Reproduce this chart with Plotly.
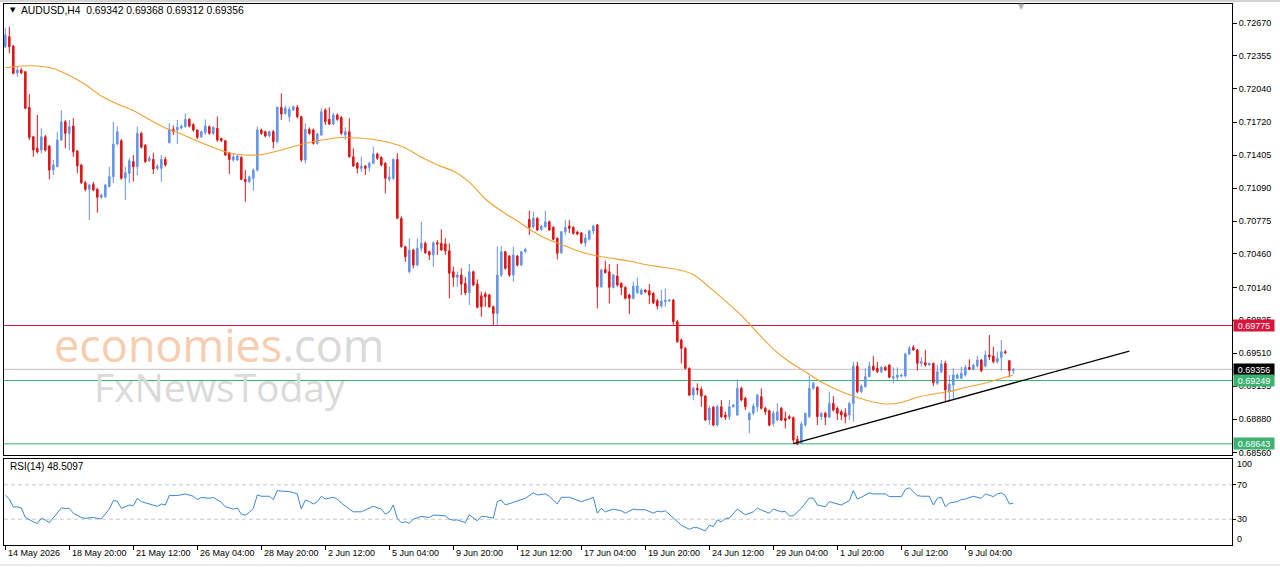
import plotly.graph_objects as go

# ---------------- data ----------------
opens = [
0.72443,0.72539,0.72450,0.72194,0.72220,0.72204,0.71863,0.71582,0.71471,0.71455,
0.71582,0.71493,0.71263,0.71295,0.71550,0.71725,0.71614,0.71684,0.71445,0.71311,
0.71142,0.71078,0.71127,0.71078,0.71002,0.71008,0.71104,0.71199,0.71512,0.71544,
0.71184,0.71231,0.71343,0.71295,0.71614,0.71502,0.71352,0.71365,0.71279,0.71279,
0.71365,0.71524,0.71653,0.71646,0.71665,0.71678,0.71748,0.71700,0.71646,0.71582,
0.71620,0.71678,0.71614,0.71662,0.71566,0.71544,0.71429,0.71359,0.71359,0.71385,
0.71174,0.71152,0.71184,0.71263,0.71646,0.71630,0.71589,0.71630,0.71534,0.71863,
0.71805,0.71774,0.71837,0.71863,0.71774,0.71359,0.71652,0.71646,0.71518,0.71598,
0.71837,0.71748,0.71703,0.71790,0.71767,0.71598,0.71630,0.71390,0.71327,0.71279,
0.71301,0.71289,0.71327,0.71417,0.71385,0.71327,0.71174,0.71184,0.71365,0.70801,
0.70529,0.70290,0.70498,0.70354,0.70514,0.70562,0.70482,0.70450,0.70567,0.70562,
0.70555,0.70490,0.70290,0.70236,0.70258,0.70178,0.70089,0.70290,0.70172,0.70060,
0.70076,0.70067,0.69955,0.69891,0.70258,0.70482,0.70440,0.70258,0.70440,0.70354,
0.70482,0.70791,0.70721,0.70801,0.70696,0.70721,0.70768,0.70715,0.70610,0.70472,
0.70673,0.70727,0.70715,0.70670,0.70660,0.70565,0.70600,0.70680,0.70737,0.70146,
0.70312,0.70290,0.70140,0.70249,0.70178,0.70140,0.70067,0.70035,0.70089,0.70076,
0.70115,0.70108,0.70083,0.70012,0.69961,0.70003,0.70010,0.70019,0.69812,0.69636,
0.69557,0.69365,0.69110,0.69174,0.69164,0.69100,0.68871,0.68993,0.68823,0.68998,
0.68919,0.68902,0.68998,0.68919,0.69174,0.69078,0.68871,0.68935,0.68998,0.69094,
0.68983,0.68960,0.68839,0.68871,0.68983,0.68887,0.68903,0.68893,0.68686,0.68648,
0.68823,0.68903,0.69174,0.69184,0.68903,0.68935,0.68897,0.69030,0.68983,0.68950,
0.68935,0.68919,0.69030,0.69387,0.69142,0.69190,0.69286,0.69387,0.69365,0.69333,
0.69375,0.69397,0.69270,0.69280,0.69290,0.69292,0.69502,0.69566,0.69541,0.69413,
0.69420,0.69397,0.69413,0.69222,0.69333,0.69413,0.69142,0.69206,0.69270,0.69270,
0.69302,0.69375,0.69356,0.69387,0.69445,0.69387,0.69493,0.69483,0.69429,0.69470,
0.69524,0.69438,0.69342]
highs = [
0.72622,0.72635,0.72460,0.72252,0.72240,0.72210,0.71990,0.71590,0.71790,0.71662,
0.71600,0.71500,0.71359,0.71630,0.71837,0.71742,0.71742,0.71758,0.71455,0.71320,
0.71160,0.71130,0.71150,0.71090,0.71040,0.71130,0.71295,0.71725,0.71684,0.71560,
0.71295,0.71375,0.71407,0.71678,0.71630,0.71510,0.71400,0.71429,0.71320,0.71407,
0.71390,0.71710,0.71690,0.71742,0.71700,0.71805,0.71760,0.71710,0.71650,0.71640,
0.71748,0.71690,0.71680,0.71774,0.71570,0.71550,0.71438,0.71423,0.71410,0.71395,
0.71263,0.71210,0.71279,0.71678,0.71660,0.71640,0.71640,0.71646,0.71870,0.71997,
0.71880,0.71870,0.71880,0.71885,0.71780,0.71710,0.71670,0.71660,0.71620,0.71854,
0.71854,0.71863,0.71812,0.71805,0.71780,0.71672,0.71758,0.71471,0.71340,0.71390,
0.71310,0.71343,0.71486,0.71430,0.71395,0.71340,0.71295,0.71375,0.71423,0.70820,
0.70540,0.70610,0.70510,0.70610,0.70768,0.70580,0.70490,0.70580,0.70593,0.70696,
0.70610,0.70562,0.70338,0.70290,0.70322,0.70240,0.70364,0.70300,0.70217,0.70099,
0.70099,0.70080,0.69965,0.70529,0.70536,0.70490,0.70450,0.70529,0.70450,0.70490,
0.70520,0.70874,0.70865,0.70810,0.70740,0.70874,0.70780,0.70725,0.70620,0.70680,
0.70785,0.70785,0.70725,0.70680,0.70670,0.70650,0.70690,0.70740,0.70745,0.70320,
0.70396,0.70364,0.70270,0.70364,0.70190,0.70150,0.70080,0.70194,0.70236,0.70130,
0.70120,0.70172,0.70095,0.70030,0.70115,0.70125,0.70030,0.70030,0.69830,0.69650,
0.69570,0.69375,0.69190,0.69222,0.69190,0.69110,0.69005,0.69005,0.69015,0.69062,
0.68950,0.69062,0.69025,0.69260,0.69190,0.69094,0.68950,0.69030,0.69120,0.69174,
0.68998,0.68970,0.68960,0.69030,0.68995,0.68950,0.68920,0.68905,0.68720,0.68855,
0.68935,0.69292,0.69235,0.69195,0.68945,0.68950,0.69142,0.69100,0.68998,0.68970,
0.68983,0.69046,0.69429,0.69429,0.69210,0.69365,0.69429,0.69483,0.69429,0.69385,
0.69390,0.69405,0.69375,0.69375,0.69315,0.69515,0.69579,0.69589,0.69550,0.69470,
0.69541,0.69420,0.69420,0.69397,0.69445,0.69438,0.69302,0.69365,0.69315,0.69381,
0.69397,0.69452,0.69410,0.69483,0.69455,0.69534,0.69684,0.69572,0.69525,0.69636,
0.69541,0.69445,0.69368]
lows = [
0.72431,0.72380,0.72180,0.72156,0.72180,0.71845,0.71550,0.71390,0.71423,0.71423,
0.71440,0.71174,0.71215,0.71290,0.71545,0.71471,0.71455,0.71390,0.71231,0.71130,
0.71060,0.70785,0.71060,0.70855,0.70985,0.70995,0.71100,0.71136,0.71500,0.71170,
0.70976,0.71136,0.71152,0.71215,0.71470,0.71330,0.71340,0.71225,0.71260,0.71152,
0.71295,0.71518,0.71600,0.71512,0.71650,0.71670,0.71670,0.71630,0.71560,0.71570,
0.71598,0.71600,0.71600,0.71534,0.71530,0.71400,0.71225,0.71343,0.71350,0.71165,
0.70960,0.71140,0.71065,0.71247,0.71600,0.71575,0.71575,0.71471,0.71518,0.71742,
0.71790,0.71725,0.71830,0.71758,0.71343,0.71327,0.71600,0.71505,0.71505,0.71590,
0.71694,0.71694,0.71694,0.71735,0.71600,0.71550,0.71380,0.71295,0.71231,0.71247,
0.71215,0.71247,0.71320,0.71360,0.71300,0.71040,0.71152,0.71167,0.70795,0.70520,
0.70385,0.70275,0.70322,0.70340,0.70482,0.70460,0.70402,0.70338,0.70450,0.70490,
0.70450,0.70035,0.70146,0.70146,0.70067,0.70067,0.69971,0.70150,0.69939,0.69859,
0.69955,0.69945,0.69780,0.69780,0.70240,0.70310,0.70240,0.70194,0.70340,0.70340,
0.70470,0.70641,0.70700,0.70680,0.70680,0.70710,0.70680,0.70590,0.70408,0.70460,
0.70641,0.70660,0.70645,0.70640,0.70555,0.70530,0.70590,0.70650,0.69939,0.70135,
0.70275,0.69987,0.70130,0.70146,0.70067,0.70025,0.69885,0.70025,0.70080,0.70065,
0.70085,0.69980,0.69980,0.69930,0.69945,0.69955,0.70000,0.69780,0.69610,0.69413,
0.69355,0.69100,0.69062,0.69110,0.68998,0.68860,0.68823,0.68810,0.68807,0.68890,
0.68871,0.68871,0.68990,0.68910,0.69050,0.68966,0.68743,0.68920,0.68950,0.68970,
0.68919,0.68810,0.68807,0.68860,0.68860,0.68791,0.68875,0.68648,0.68630,0.68640,
0.68807,0.68890,0.69160,0.68823,0.68871,0.68823,0.68890,0.68950,0.68871,0.68870,
0.68839,0.68871,0.68855,0.69126,0.69130,0.69180,0.69280,0.69340,0.69320,0.69320,
0.69340,0.69270,0.69222,0.69250,0.69280,0.69280,0.69495,0.69535,0.69343,0.69381,
0.69381,0.69390,0.69196,0.69206,0.69320,0.69046,0.69046,0.69069,0.69260,0.69260,
0.69286,0.69349,0.69345,0.69375,0.69330,0.69375,0.69445,0.69413,0.69413,0.69343,
0.69502,0.69280,0.69312]
closes = [
0.72555,0.72443,0.72188,0.72220,0.72194,0.71854,0.71576,0.71455,0.71438,0.71582,
0.71455,0.71263,0.71311,0.71550,0.71725,0.71614,0.71678,0.71438,0.71301,0.71142,
0.71078,0.71120,0.71072,0.71002,0.71024,0.71120,0.71199,0.71512,0.71630,0.71184,
0.71237,0.71352,0.71295,0.71614,0.71480,0.71343,0.71375,0.71273,0.71301,0.71365,
0.71311,0.71653,0.71630,0.71672,0.71684,0.71748,0.71684,0.71646,0.71576,0.71630,
0.71684,0.71614,0.71672,0.71550,0.71544,0.71407,0.71365,0.71390,0.71397,0.71174,
0.71152,0.71199,0.71263,0.71646,0.71614,0.71589,0.71630,0.71534,0.71863,0.71799,
0.71854,0.71844,0.71869,0.71774,0.71359,0.71652,0.71614,0.71518,0.71608,0.71821,
0.71725,0.71703,0.71790,0.71748,0.71614,0.71630,0.71390,0.71301,0.71279,0.71301,
0.71279,0.71327,0.71417,0.71375,0.71311,0.71184,0.71194,0.71365,0.70801,0.70529,
0.70433,0.70498,0.70354,0.70514,0.70562,0.70472,0.70450,0.70567,0.70555,0.70498,
0.70490,0.70275,0.70236,0.70258,0.70172,0.70089,0.70290,0.70163,0.69949,0.69955,
0.70051,0.69955,0.69891,0.70258,0.70482,0.70322,0.70258,0.70450,0.70354,0.70482,
0.70504,0.70715,0.70801,0.70689,0.70727,0.70768,0.70689,0.70600,0.70466,0.70673,
0.70715,0.70705,0.70657,0.70650,0.70565,0.70612,0.70680,0.70727,0.70146,0.70306,
0.70280,0.70140,0.70258,0.70163,0.70140,0.70035,0.70035,0.70153,0.70153,0.70115,
0.70099,0.70067,0.69993,0.69961,0.70010,0.70019,0.70019,0.69812,0.69620,0.69557,
0.69365,0.69110,0.69174,0.69158,0.69100,0.68871,0.68983,0.68823,0.68998,0.68902,
0.68897,0.68998,0.69014,0.69174,0.69062,0.68998,0.68935,0.69005,0.69110,0.68983,
0.68950,0.68823,0.68935,0.68950,0.68871,0.68865,0.68887,0.68679,0.68641,0.68832,
0.68935,0.69174,0.69222,0.68903,0.68935,0.68897,0.69030,0.68966,0.68935,0.68919,
0.68903,0.69030,0.69387,0.69142,0.69196,0.69286,0.69387,0.69349,0.69333,0.69375,
0.69349,0.69280,0.69286,0.69302,0.69302,0.69502,0.69557,0.69541,0.69413,0.69429,
0.69397,0.69413,0.69228,0.69333,0.69407,0.69158,0.69215,0.69302,0.69302,0.69318,
0.69375,0.69356,0.69397,0.69445,0.69343,0.69493,0.69477,0.69429,0.69461,0.69524,
0.69515,0.69343,0.69356]

# moving average (orange line), read every 4th bar
ma_idx = list(range(0, 253, 4))
ma_vals = [
0.72242,0.72258,0.72258,0.72234,0.72167,0.72081,0.71971,0.71895,0.71832,0.71746,
0.71665,0.71608,0.71541,0.71478,0.71426,0.71407,0.71411,0.71445,0.71488,0.71526,
0.71555,0.71574,0.71569,0.71555,0.71526,0.71474,0.71387,0.71311,0.71254,0.71148,
0.70986,0.70871,0.70775,0.70673,0.70593,0.70536,0.70478,0.70440,0.70416,0.70392,
0.70359,0.70335,0.70311,0.70263,0.70143,0.70011,0.69872,0.69707,0.69550,0.69428,
0.69332,0.69234,0.69159,0.69100,0.69052,0.69024,0.69038,0.69088,0.69119,0.69143,
0.69182,0.69215,0.69258,0.69301]

# RSI(14)
rsi_idx = [0,1,2,3,4,5,7,8,9,10,11,12,14,15,16,17,19,20,22,23,24,25,26,27,28,29,30,31,32,33,
           34,36,37,38,39,40,41,43,45,47,48,49,51,52,54,55,57,58,59,60,61,62,63,64,66,67,68,69,71,73,
           74,75,76,77,78,79,80,82,83,84,86,87,89,90,92,94,95,96,97,98,99,100,101,102,104,106,107,108,110,111,
           112,113,115,116,117,118,119,120,122,123,124,125,127,128,130,132,133,135,136,138,139,141,142,144,146,147,148,149,150,152,
           154,155,157,158,160,162,163,164,165,167,168,169,171,172,173,175,176,177,178,179,180,181,183,184,185,187,188,189,191,192,
           193,194,195,196,197,199,201,202,203,204,205,206,207,208,209,211,212,213,214,216,217,220,221,224,225,226,228,229,231,232,
           233,234,235,236,237,238,239,240,242,244,245,246,247,248,249,250,251,252]
rsi_vals = [58,53.5,44,44.5,43,32,27,25,31,29,26,32,43,42.6,42.6,37,32,31,32,31,30.4,36,42,51.6,51,42.6,45,46.5,45.7,54.3,
            50.4,47.7,45.7,45,47.7,46.5,57.5,57.5,59.4,56.7,52.8,55.3,54.3,55.3,49.6,44.5,41.8,43,35.9,34.7,37.8,42.6,58.2,56.7,56.7,52.8,63.3,62.6,62.2,59.4,
            41.8,52.4,50.4,47.7,50.4,56.7,53.5,55.5,53.5,48.8,41.8,38.6,38.6,41,45,41.8,35.9,38.6,46.5,30.8,26,26.9,25.3,30,33.2,32,34.7,34.7,33.9,30,
            28.8,29.2,26,35.1,32,28.1,33.2,33.2,31.2,50.4,52.4,46.5,49.6,51.2,54.3,60.6,58.2,59.4,56.7,47.7,55.5,55.5,53.5,50.4,53.5,55.5,37,42.6,38.6,41.8,
            39.8,37,41.8,41,41,37,39.4,38.6,39.8,30.8,26.9,23,18.3,20.2,20.2,16.3,23,21.4,29.2,26.9,30.8,31.2,41.8,38.6,35.1,38.6,43,40.6,37,41.8,
            40.6,38.6,39,33.9,33.9,42.6,54.7,54.3,46.5,45.7,44.5,50.4,48.8,47.7,46.5,51.6,63.3,53.5,55.5,60.6,59.4,59.4,56.3,56.3,64.5,66.5,57.5,56.7,56.7,46.5,
            54.3,55.5,44.5,48.8,49.6,50.4,52.8,53.5,56.7,54.3,59.4,58.2,56.3,59.4,60.6,57.5,47.7,48.5]

# horizontal levels and trend line
resistance = 0.69775
last_price = 0.69356
support_1 = 0.69249
support_2 = 0.68643
trend_idx = [197, 281]
trend_vals = [0.68645, 0.69530]

price_ticks = [0.72670, 0.72355, 0.72040, 0.71720, 0.71405, 0.71090, 0.70775,
               0.70460, 0.70140, 0.69825, 0.69510, 0.69195, 0.68880, 0.68560]
time_idx = [0, 16, 32, 48, 64, 80, 96, 112, 128, 144, 160, 176, 192, 208, 224, 240]
time_labels = ["14 May 2026", "18 May 20:00", "21 May 12:00", "26 May 04:00", "28 May 20:00",
               "2 Jun 12:00", "5 Jun 04:00", "9 Jun 20:00", "12 Jun 12:00", "17 Jun 04:00",
               "19 Jun 20:00", "24 Jun 12:00", "29 Jun 04:00", "1 Jul 20:00", "6 Jul 12:00",
               "9 Jul 04:00"]
rsi_levels = [70, 30]
rsi_labels = [100, 70, 30, 0]
header = "AUDUSD,H4  0.69342 0.69368 0.69312 0.69356"
rsi_header = "RSI(14) 48.5097"

# ---------------- figure ----------------
FONT = "Liberation Sans"
BULL = "#6495ED"
BEAR = "#E31414"
W, H = 1280, 567
ML, MR, MT, MB = 4, 48, 4, 22
PW, PH = W - ML - MR, H - MT - MB

def py(px):  # pixel row -> paper y
    return (H - MB - px) / PH

def pxx(px):  # pixel column -> paper x
    return (px - ML) / PW

bars = list(range(len(closes)))
fig = go.Figure()
fig.add_trace(go.Candlestick(
    x=bars, open=opens, high=highs, low=lows, close=closes,
    increasing=dict(line=dict(color=BULL, width=1), fillcolor=BULL),
    decreasing=dict(line=dict(color=BEAR, width=1), fillcolor=BEAR),
    whiskerwidth=0, xaxis="x", yaxis="y", hoverinfo="skip"))
fig.add_trace(go.Scatter(x=ma_idx, y=ma_vals, mode="lines", line=dict(color="#F0A030", width=1.1, shape="spline", smoothing=0.6),
                         xaxis="x", yaxis="y", hoverinfo="skip"))
fig.add_trace(go.Scatter(x=trend_idx, y=trend_vals, mode="lines", line=dict(color="black", width=1.3),
                         xaxis="x", yaxis="y", hoverinfo="skip"))
fig.add_trace(go.Scatter(x=rsi_idx, y=rsi_vals, mode="lines", line=dict(color="#3A86D6", width=1),
                         xaxis="x2", yaxis="y2", hoverinfo="skip"))

xr = [-0.33, (PW - 1.33) / 4]
main_dom = [py(455), 1]
rsi_dom = [0, py(459)]

fig.update_layout(
    width=W, height=H, margin=dict(l=ML, r=MR, t=MT, b=MB),
    paper_bgcolor="white", plot_bgcolor="white", showlegend=False,
    font=dict(family=FONT, size=9, color="black"),
    boxgap=0.45,
    xaxis=dict(domain=[0, 1], range=xr, anchor="y", showticklabels=False, ticks="",
               showgrid=False, zeroline=False, showline=True, mirror=True, linecolor="black",
               linewidth=1, rangeslider=dict(visible=False)),
    yaxis=dict(domain=main_dom, range=[0.68536, 0.72852], anchor="x", side="right",
               tickvals=price_ticks, ticktext=[f"{v:.5f}" for v in price_ticks],
               ticks="outside", ticklen=4, tickcolor="black", showgrid=False, zeroline=False,
               showline=True, mirror=True, linecolor="black", linewidth=1,
               tickfont=dict(family=FONT, size=9, color="black")),
    xaxis2=dict(domain=[0, 1], range=xr, anchor="y2", tickvals=time_idx, showticklabels=False,
                ticks="outside", ticklen=4, tickcolor="black", showgrid=False, zeroline=False,
                showline=True, mirror=True, linecolor="black", linewidth=1),
    yaxis2=dict(domain=rsi_dom, range=[0, 100], anchor="x2", side="right", tickvals=rsi_levels,
                showticklabels=False, ticks="outside", ticklen=3, tickcolor="black",
                showgrid=False, zeroline=False, showline=True, mirror=True, linecolor="black", linewidth=1),
)

shapes = []
for lvl, col in [(resistance, "#D01440"), (last_price, "#C0C0C0"), (support_1, "#3CB371"), (support_2, "#3CB371")]:
    shapes.append(dict(type="line", xref="x domain", yref="y", x0=0, x1=1, y0=lvl, y1=lvl,
                       line=dict(color=col, width=1), layer="below"))
for lvl in rsi_levels:
    shapes.append(dict(type="line", xref="x2 domain", yref="y2", x0=0, x1=1, y0=lvl, y1=lvl,
                       line=dict(color="#C8C8C8", width=1, dash="4px,3px"), layer="below"))
# window borders
shapes.append(dict(type="line", xref="paper", yref="paper", x0=pxx(0), x1=pxx(1280), y0=py(1), y1=py(1),
                   line=dict(color="#A8A8A8", width=1)))
shapes.append(dict(type="line", xref="paper", yref="paper", x0=pxx(0), x1=pxx(1280), y0=py(565), y1=py(565),
                   line=dict(color="#D8D8D8", width=1)))
fig.update_layout(shapes=shapes)

ann = []
# price label boxes on the right axis
for lvl, bg in [(resistance, "#DC143C"), (last_price, "#000000"), (support_1, "#3CB371"), (support_2, "#3CB371")]:
    ann.append(dict(xref="paper", yref="y", x=1, y=lvl, xanchor="left", yanchor="middle", xshift=1,
                    text=f"{lvl:.5f}", showarrow=False, bgcolor=bg, width=40, height=11, borderpad=0,
                    font=dict(family=FONT, size=9, color="white")))
# RSI scale labels
for v, dy in zip(rsi_labels, [-5, 0, 0, 6]):
    ann.append(dict(xref="paper", yref="y2", x=1, y=v, xanchor="left", yanchor="middle", xshift=3, yshift=dy,
                    text=str(v), showarrow=False, font=dict(family=FONT, size=9, color="black")))
# time labels (left aligned at tick)
for t, lab in zip(time_idx, time_labels):
    ann.append(dict(xref="x2", yref="paper", x=t, y=py(553), xanchor="left", yanchor="middle", xshift=1,
                    text=lab, showarrow=False, font=dict(family=FONT, size=9, color="black")))
# headers
ann.append(dict(xref="paper", yref="paper", x=pxx(8), y=py(10), xanchor="left", yanchor="middle",
                text="▼", showarrow=False, font=dict(family="DejaVu Sans", size=7, color="black")))
ann.append(dict(xref="paper", yref="paper", x=pxx(19), y=py(10), xanchor="left", yanchor="middle",
                text=header, showarrow=False, font=dict(family=FONT, size=10.3, color="black")))
ann.append(dict(xref="paper", yref="paper", x=pxx(8), y=py(466), xanchor="left", yanchor="middle",
                text=rsi_header, showarrow=False, font=dict(family=FONT, size=10, color="black")))
ann.append(dict(xref="paper", yref="paper", x=pxx(1021), y=py(6), xanchor="center", yanchor="middle",
                text="▼", showarrow=False, font=dict(family="DejaVu Sans", size=8, color="#B0B0B0")))
# watermark (one two-line text block)
ann.append(dict(xref="paper", yref="paper", x=pxx(219), y=py(363), xanchor="center", yanchor="middle",
                align="center", showarrow=False,
                text=("<span style='font-size:45px'><span style='color:#F7CDB0'>economies</span>"
                      "<span style='color:#D9D9D9'>.com</span></span><br>"
                      "<span style='font-size:39px;color:#DADADA'>FxNewsToday</span>"),
                font=dict(family="Open Sans", size=31, color="#DADADA")))
fig.update_layout(annotations=ann)

fig.write_html("out.html")
